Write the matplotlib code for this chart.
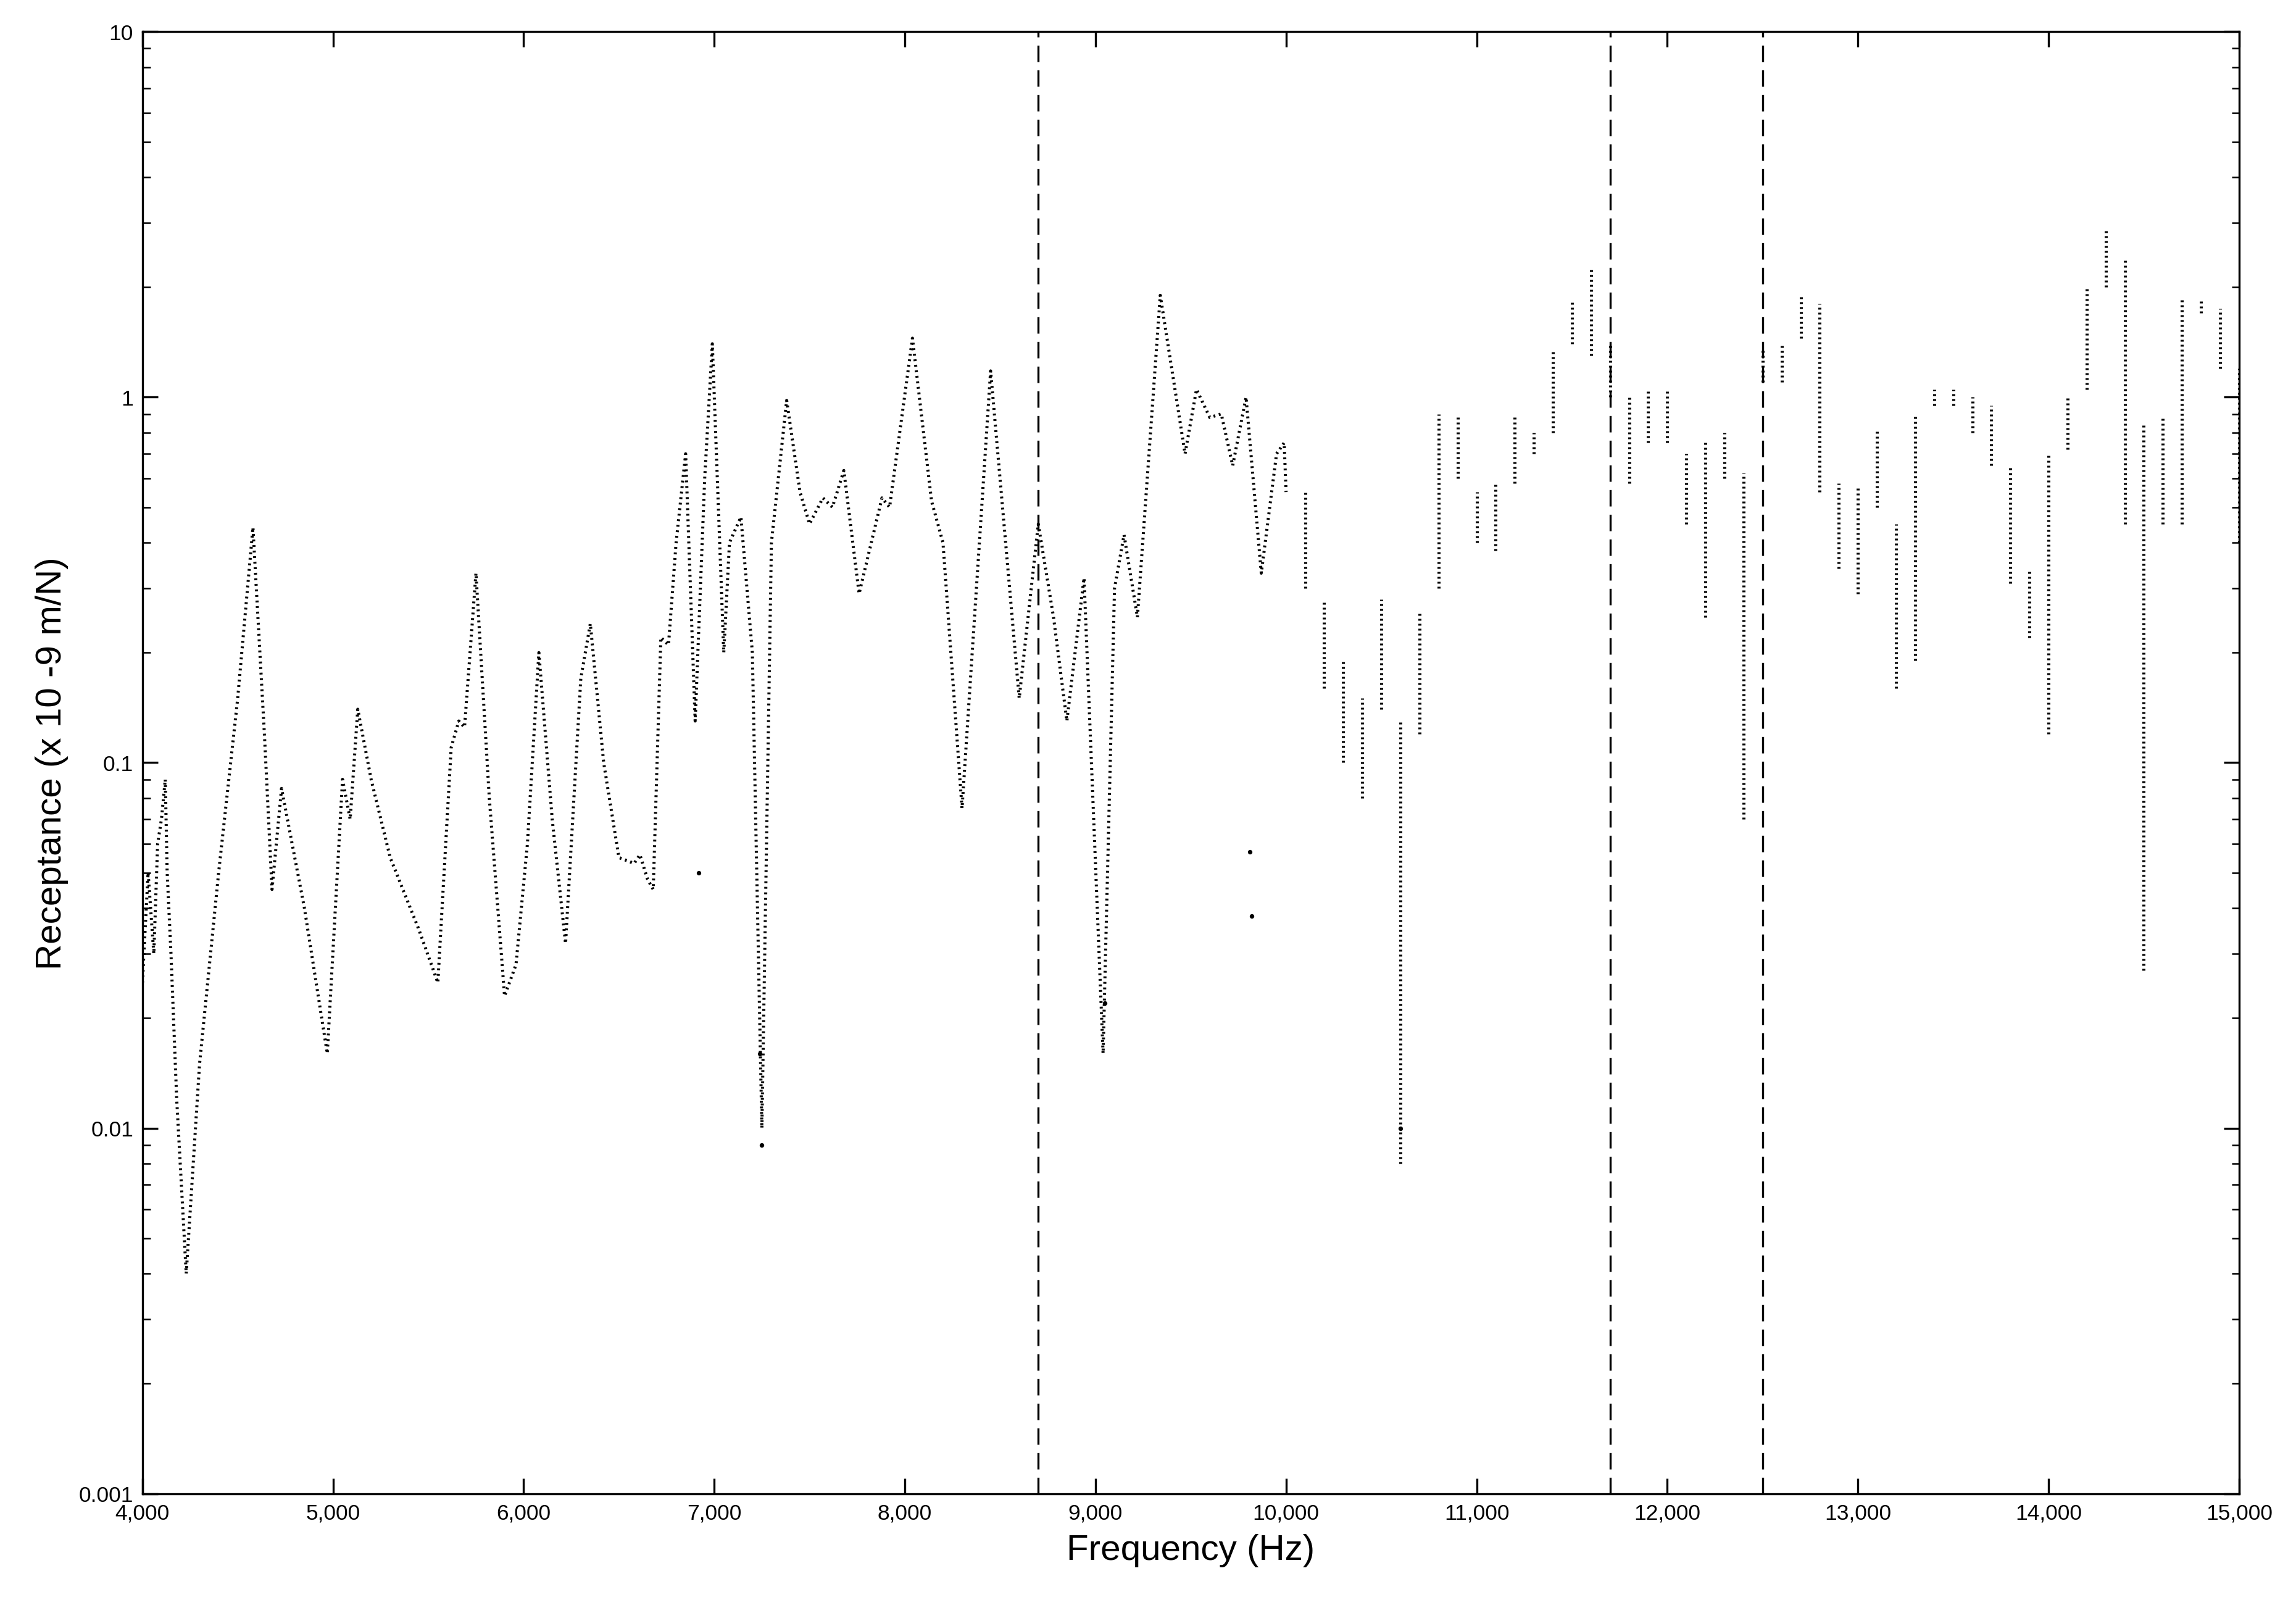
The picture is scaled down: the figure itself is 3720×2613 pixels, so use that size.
import matplotlib.pyplot as plt
import matplotlib.ticker as ticker
import numpy as np

plt.rcParams['font.family'] = ['Liberation Sans', 'DejaVu Sans']

# continuous sweep part (frequency, receptance x1e-9 m/N)
sweep_freq = [4000, 4030, 4060, 4080, 4100, 4120, 4130, 4150, 4180, 4230, 4300, 4400, 4500, 4580,
              4640, 4680, 4730, 4850, 4970, 5050, 5090, 5130, 5200, 5300, 5450, 5550, 5620, 5660,
              5690, 5750, 5820, 5900, 5960, 6020, 6080, 6150, 6220, 6300, 6350, 6420, 6500, 6580,
              6610, 6650, 6680, 6720, 6760, 6800, 6850, 6900, 6950, 6990, 7050, 7080, 7140, 7200,
              7250, 7300, 7380, 7450, 7500, 7570, 7620, 7680, 7760, 7880, 7920, 8040, 8140, 8200,
              8300, 8450, 8600, 8700, 8780, 8850, 8940, 9040, 9100, 9150, 9220, 9340, 9470, 9530,
              9600, 9660, 9720, 9790, 9870, 9950, 9990, 10000]
sweep_val = [0.025, 0.05, 0.03, 0.06, 0.07, 0.09, 0.05, 0.03, 0.012, 0.004, 0.015, 0.05, 0.15, 0.44,
             0.12, 0.045, 0.085, 0.04, 0.016, 0.09, 0.07, 0.14, 0.09, 0.055, 0.035, 0.025, 0.11, 0.13,
             0.125, 0.33, 0.08, 0.023, 0.028, 0.06, 0.2, 0.07, 0.032, 0.17, 0.24, 0.1, 0.055, 0.053,
             0.056, 0.048, 0.045, 0.22, 0.21, 0.4, 0.7, 0.13, 0.6, 1.4, 0.2, 0.4, 0.47, 0.2,
             0.01, 0.4, 0.98, 0.55, 0.45, 0.53, 0.5, 0.63, 0.29, 0.53, 0.5, 1.45, 0.52, 0.4,
             0.075, 1.18, 0.15, 0.45, 0.25, 0.13, 0.32, 0.016, 0.3, 0.42, 0.25, 1.9, 0.7, 1.05,
             0.88, 0.9, 0.65, 1.0, 0.33, 0.7, 0.75, 0.55]

# stepped part: each step shows a spread of values
step_freq = [10100, 10200, 10300, 10400, 10500, 10600, 10700, 10800, 10900, 11000, 11100, 11200,
             11300, 11400, 11500, 11600, 11700, 11800, 11900, 12000, 12100, 12200, 12300, 12400,
             12500, 12600, 12700, 12800, 12900, 13000, 13100, 13200, 13300, 13400, 13500, 13600,
             13700, 13800, 13900, 14000, 14100, 14200, 14300, 14400, 14500, 14600, 14700, 14800,
             14900, 15000]
step_lo = [0.3, 0.16, 0.1, 0.08, 0.14, 0.008, 0.12, 0.3, 0.6, 0.4, 0.38, 0.58,
           0.7, 0.8, 1.4, 1.3, 1.0, 0.58, 0.75, 0.75, 0.45, 0.25, 0.6, 0.07,
           1.1, 1.1, 1.45, 0.55, 0.34, 0.29, 0.5, 0.16, 0.19, 0.95, 0.95, 0.8,
           0.65, 0.31, 0.22, 0.12, 0.72, 1.05, 2.0, 0.45, 0.027, 0.45, 0.45, 1.7,
           1.2, 0.4]
step_hi = [0.55, 0.28, 0.19, 0.15, 0.28, 0.13, 0.26, 0.9, 0.9, 0.55, 0.58, 0.9,
           0.8, 1.35, 1.85, 2.25, 1.4, 1.0, 1.05, 1.05, 0.7, 0.75, 0.8, 0.62,
           1.35, 1.4, 1.9, 1.8, 0.58, 0.57, 0.82, 0.45, 0.9, 1.05, 1.05, 1.0,
           0.95, 0.64, 0.34, 0.7, 1.0, 2.0, 2.9, 2.4, 0.85, 0.88, 1.85, 1.85,
           1.75, 1.2]

# isolated outlier dots
iso_freq = [6920, 7240, 7250, 9050, 9820, 9810, 10600]
iso_val = [0.05, 0.016, 0.009, 0.022, 0.038, 0.057, 0.01]

marker_lines = [8700, 11700, 12500]

fig = plt.figure(figsize=(12.403, 8.713), dpi=300)
ax = fig.add_axes([0.062, 0.074, 0.913, 0.906])

ax.plot(sweep_freq, sweep_val, color='black', ls=(0, (0.6, 1.2)), lw=1.2)
ax.vlines(step_freq, step_lo, step_hi, color='black', lw=1.2, linestyles=(0, (0.6, 1.0)))
ax.plot(iso_freq, iso_val, 'k.', ms=1.5)
for f in marker_lines:
    ax.axvline(f, color='black', lw=0.8, ls=(0, (8, 4)))

ax.set_yscale('log')
ax.set_xlim(4000, 15000)
ax.set_ylim(0.001, 10)
ax.xaxis.set_major_locator(ticker.MultipleLocator(1000))
ax.xaxis.set_major_formatter(ticker.FuncFormatter(lambda v, p: f'{int(v):,}'))
ax.yaxis.set_major_formatter(ticker.FuncFormatter(lambda v, p: f'{v:g}'))
ax.tick_params(which='both', direction='in', top=True, right=True, labelsize=8.5)
ax.tick_params(which='major', length=6)
ax.tick_params(which='minor', length=3)
ax.set_xlabel('Frequency (Hz)', fontsize=14)
ax.set_ylabel('Receptance (x 10 -9 m/N)', fontsize=14)
for s in ax.spines.values():
    s.set_linewidth(0.8)

fig.savefig('out.png')
